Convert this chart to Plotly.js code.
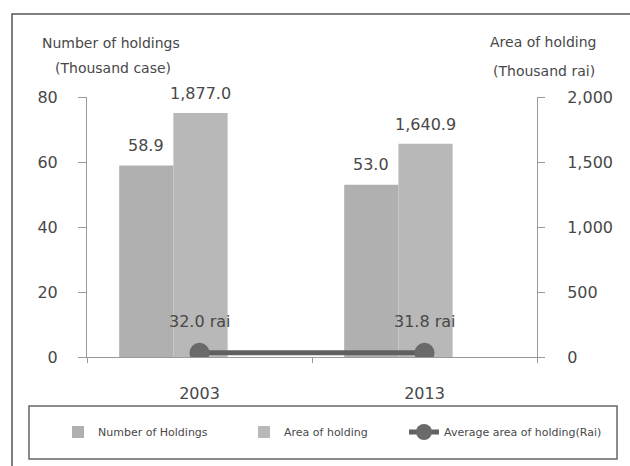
<!DOCTYPE html>
<html>
<head>
<meta charset="utf-8">
<script src="https://cdn.plot.ly/plotly-3.0.1.min.js"></script>
<style>
  html, body { margin: 0; padding: 0; background: #fff; }
  #plot { width: 630px; height: 466px; }
</style>
</head>
<body>
<div id="plot"></div>
<script>
const years = ['2003', '2013'];
const holdings = [58.9, 53.0];          // thousand case
const areaHolding = [1877.0, 1640.9];   // thousand rai
const avgArea = [32.0, 31.8];           // rai

const txtColor = '#484848';
const font = 'DejaVu Sans, sans-serif';

// bar placement within a category
const barW = 0.241;
const offNum = -0.357;
const offArea = -0.116;

function fmt1(v) {
    return v.toLocaleString('en-US', { minimumFractionDigits: 1, maximumFractionDigits: 1 });
}

let traceNum = {
    x: years,
    y: holdings,
    type: 'bar',
    name: 'Number of Holdings',
    yaxis: 'y',
    offset: offNum,
    width: barW,
    marker: { color: '#b0b0b0' },
    legend: 'legend',
    hoverinfo: 'skip'
};

let traceArea = {
    x: years,
    y: areaHolding,
    type: 'bar',
    name: 'Area of holding',
    yaxis: 'y2',
    offset: offArea,
    width: barW,
    marker: { color: '#b8b8b8' },
    legend: 'legend2',
    hoverinfo: 'skip'
};

let traceAvg = {
    x: years,
    y: avgArea,
    type: 'scatter',
    mode: 'lines+markers',
    name: 'Average area of holding(Rai)',
    yaxis: 'y2',
    line: { color: '#606060', width: 5 },
    marker: { color: '#6a6a6a', size: 20 },
    legend: 'legend3',
    hoverinfo: 'skip'
};

// pixel helpers for paper coords (plot area 87..537 x, 97..357 y)
const px = (x) => (x - 87) / 450;
const py = (y) => (357 - y) / 260;

let annotations = [
    { text: 'Number of holdings', x: px(40), y: py(43), xanchor: 'left' },
    { text: '(Thousand case)', x: px(113), y: py(68), xanchor: 'center' },
    { text: 'Area of holding', x: px(543), y: py(42), xanchor: 'center' },
    { text: '(Thousand rai)', x: px(544), y: py(71), xanchor: 'center' }
].map(a => Object.assign(a, {
    xref: 'paper', yref: 'paper', yanchor: 'middle', showarrow: false,
    font: { family: font, size: 14, color: txtColor }
}));

years.forEach((yr, i) => {
    annotations.push({
        x: i + offNum + barW / 2, y: holdings[i], xref: 'x', yref: 'y',
        text: fmt1(holdings[i]), showarrow: false, yanchor: 'bottom', yshift: 9,
        font: { family: font, size: 16, color: txtColor }
    });
    annotations.push({
        x: i + offArea + barW / 2, y: areaHolding[i], xref: 'x', yref: 'y2',
        text: fmt1(areaHolding[i]), showarrow: false, yanchor: 'bottom', yshift: 8,
        font: { family: font, size: 16, color: txtColor }
    });
    annotations.push({
        x: i, y: avgArea[i], xref: 'x', yref: 'y2',
        text: fmt1(avgArea[i]) + ' rai', showarrow: false, yanchor: 'middle', yshift: 31,
        font: { family: font, size: 16, color: txtColor }
    });
});

let legendBase = {
    orientation: 'h', yanchor: 'middle', xanchor: 'left', y: py(432),
    bgcolor: 'rgba(0,0,0,0)', borderwidth: 0,
    font: { family: font, size: 11, color: txtColor }
};

let layout = {
    width: 630,
    height: 466,
    margin: { l: 87, r: 93, t: 97, b: 109 },
    paper_bgcolor: '#fff',
    plot_bgcolor: 'rgba(0,0,0,0)',
    font: { family: font, color: txtColor },
    showlegend: true,
    legend: Object.assign({}, legendBase, { x: px(58) }),
    legend2: Object.assign({}, legendBase, { x: px(244) }),
    legend3: Object.assign({}, legendBase, { x: px(404) }),
    xaxis: {
        type: 'category',
        range: [-0.5, 1.5],
        showline: true, linecolor: '#999', linewidth: 1,
        ticks: 'outside', tickson: 'boundaries', ticklen: 5, tickcolor: '#999',
        ticklabelstandoff: 22,
        tickfont: { family: font, size: 16, color: txtColor },
        showgrid: false, zeroline: false, fixedrange: true
    },
    yaxis: {
        range: [0, 80], dtick: 20,
        showline: true, linecolor: '#999', linewidth: 1,
        ticks: 'outside', ticklen: 8, tickcolor: '#999',
        ticklabelstandoff: 17,
        tickfont: { family: font, size: 16, color: txtColor },
        showgrid: false, zeroline: false, fixedrange: true
    },
    yaxis2: {
        overlaying: 'y', side: 'right',
        range: [0, 2000], dtick: 500, tickformat: ',d',
        showline: true, linecolor: '#999', linewidth: 1,
        ticks: 'outside', ticklen: 7, tickcolor: '#999',
        ticklabelstandoff: 19,
        tickfont: { family: font, size: 16, color: txtColor },
        showgrid: false, zeroline: false, fixedrange: true
    },
    annotations: annotations,
    shapes: [
        // outer frame
        { type: 'rect', xref: 'paper', yref: 'paper', x0: px(12), x1: px(650), y0: py(490), y1: py(14),
          line: { color: '#555', width: 1.5 }, layer: 'below' },
        // legend box
        { type: 'rect', xref: 'paper', yref: 'paper', x0: px(29), x1: px(617), y0: py(459), y1: py(406),
          line: { color: '#666', width: 1.5 }, layer: 'below' }
    ]
};

Plotly.newPlot('plot', [traceNum, traceArea, traceAvg], layout, { displayModeBar: false, staticPlot: true });
</script>
</body>
</html>
